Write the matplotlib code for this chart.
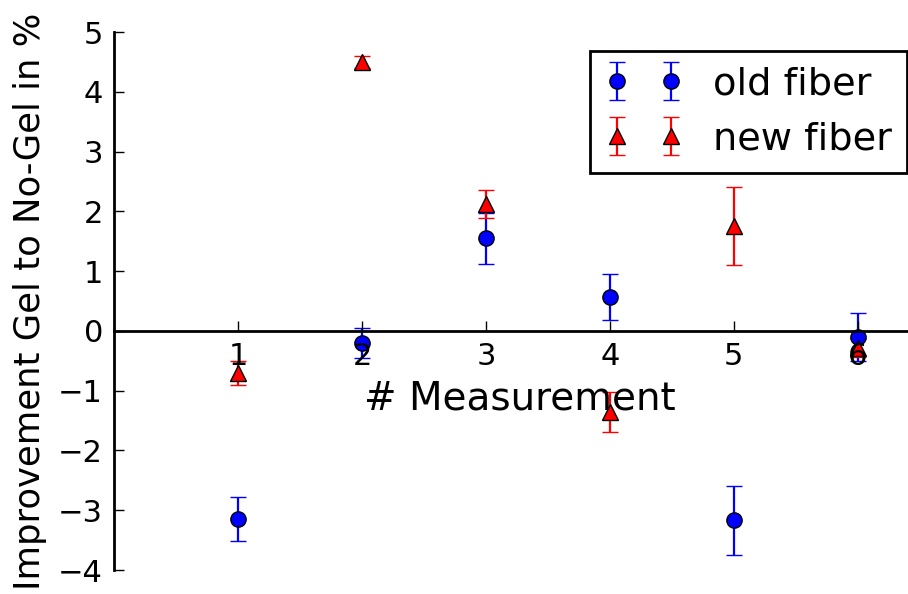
import matplotlib
matplotlib.use("Agg")
import matplotlib.pyplot as plt

measurements = [1, 2, 3, 4, 5, 6]
old_fiber = [-3.15, -0.20, 1.55, 0.57, -3.17, -0.10]
old_fiber_err = [0.37, 0.25, 0.43, 0.39, 0.58, 0.40]
new_fiber = [-0.70, 4.50, 2.12, -1.36, 1.75, -0.28]
new_fiber_err = [0.20, 0.10, 0.23, 0.33, 0.65, 0.15]

plt.rcParams["font.family"] = "DejaVu Sans"

W, H = 908, 594
fig = plt.figure(figsize=(W / 100, H / 100), dpi=100)
# axes runs slightly past the right edge of the canvas
x0, x1 = 114, 926
y0, y1 = 570, 32
ax = fig.add_axes([x0 / W, (H - y0) / H, (x1 - x0) / W, (y0 - y1) / H])

ax.errorbar(measurements, old_fiber, yerr=old_fiber_err, fmt="o", color="blue",
            ecolor="blue", markersize=11, markeredgecolor="black", markeredgewidth=1,
            elinewidth=1.6, capsize=5.5, capthick=1.6, label="old fiber")
ax.errorbar(measurements, new_fiber, yerr=new_fiber_err, fmt="^", color="red",
            ecolor="red", markersize=11, markeredgecolor="black", markeredgewidth=1,
            elinewidth=1.6, capsize=5.5, capthick=1.6, label="new fiber")

ax.set_xlim(0, 6.55)
ax.set_ylim(-4, 5)
ax.set_xticks(measurements)
ax.set_yticks(range(-4, 6))

ax.spines["left"].set_position(("data", 0))
ax.spines["bottom"].set_position(("data", 0))
ax.spines["top"].set_visible(False)
ax.spines["right"].set_visible(False)
for s in ("left", "bottom"):
    ax.spines[s].set_linewidth(2)
ax.set_axisbelow(False)
ax.tick_params(direction="in", length=7, width=1, labelsize=22, pad=8)
ax.xaxis.set_ticks_position("bottom")
ax.yaxis.set_ticks_position("left")

ax.set_xlabel("# Measurement", fontsize=28, labelpad=6)
ax.set_ylabel("Improvement Gel to No-Gel in %", fontsize=25.5, labelpad=8)

leg = ax.legend(loc="upper right", numpoints=2, fontsize=27.5, fancybox=False,
                framealpha=1, edgecolor="black", borderaxespad=0.5)
leg.get_frame().set_linewidth(2)

fig.savefig("out.png", dpi=100, facecolor="white")
